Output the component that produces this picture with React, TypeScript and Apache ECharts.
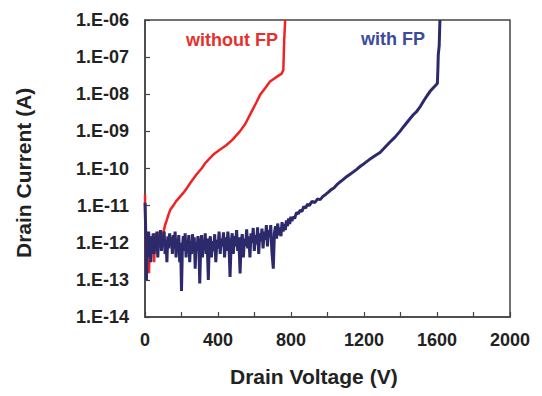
import React, { useEffect, useRef } from "react";
import * as echarts from "echarts";

const xTicks = [0, 400, 800, 1200, 1600, 2000];
const yMin = 1e-14;
const yMax = 1e-6;

const withoutFP: [number, number][] = [
  [0, 2e-11], [3, 1.5e-12], [6, 4e-13], [10, 1.2e-12], [14, 2e-13], [18, 8e-13],
  [22, 1.5e-13], [26, 1e-12], [30, 3e-13], [35, 1.5e-12], [40, 5e-13], [45, 1.2e-12],
  [50, 3e-13], [55, 1.8e-12], [60, 6e-13], [65, 1.5e-12], [70, 8e-13], [75, 2e-12],
  [80, 1e-12], [88, 2e-12], [95, 1.5e-12], [100, 1.8e-12], [110, 3e-12], [119, 4e-12],
  [130, 6e-12], [140, 8e-12], [155, 1e-11], [170, 1.3e-11], [190, 1.7e-11], [210, 2.2e-11],
  [230, 3e-11], [250, 4.2e-11], [283, 7e-11], [310, 1e-10], [330, 1.4e-10], [356, 1.9e-10],
  [380, 2.5e-10], [410, 3.2e-10], [447, 4.3e-10], [480, 6e-10], [520, 1e-9], [550, 1.6e-9],
  [584, 3.4e-9], [610, 6e-9], [630, 9.5e-9], [660, 1.5e-8], [685, 2.2e-8], [715, 2.8e-8],
  [749, 3.6e-8], [758, 4.5e-8], [760, 1e-7], [763, 3e-7], [768, 1e-6],
];

const withFP: [number, number][] = [
  [0, 1.2e-11], [4, 2e-12], [8, 1e-13], [12, 1.5e-12], [16, 4e-13], [20, 2e-12],
  [24, 8e-13], [28, 1.5e-12], [32, 3e-13], [36, 1.2e-12], [40, 6e-13], [45, 1.8e-12],
  [50, 5e-13], [55, 1.5e-12], [60, 7e-13], [65, 2e-12], [70, 4e-13], [75, 1.5e-12],
  [80, 9e-13], [85, 2.2e-12], [90, 6e-13], [95, 1.5e-12], [100, 8e-13], [105, 2e-12],
  [110, 5e-13], [115, 1.2e-12], [120, 3e-13], [125, 1.5e-12], [130, 7e-13], [135, 1.8e-12],
  [140, 9e-13], [145, 1.4e-12], [150, 5e-13], [155, 1.6e-12], [160, 8e-13], [165, 2e-12],
  [170, 4e-13], [175, 1.3e-12], [180, 6e-13], [185, 1.6e-12], [190, 3e-13], [195, 1e-12],
  [200, 5e-14], [205, 8e-13], [210, 1.5e-12], [215, 6e-13], [220, 1.8e-12], [225, 4e-13],
  [230, 1.2e-12], [235, 7e-13], [240, 1.6e-12], [245, 3e-13], [250, 1.1e-12], [255, 5e-13],
  [260, 1.7e-12], [265, 8e-13], [270, 1.4e-12], [275, 2e-13], [280, 1e-12], [285, 6e-13],
  [290, 1.5e-12], [295, 9e-13], [300, 8e-14], [305, 7e-13], [310, 1.6e-12], [315, 4e-13],
  [320, 1.2e-12], [325, 7e-13], [330, 1.8e-12], [335, 5e-13], [340, 1.3e-12], [347, 1e-13],
  [352, 9e-13], [358, 1.5e-12], [364, 4e-13], [370, 1.1e-12], [376, 6e-13], [382, 1.7e-12],
  [388, 3e-13], [394, 1.2e-12], [400, 7e-13], [406, 2e-12], [412, 5e-13], [418, 1.3e-12],
  [424, 8e-13], [430, 1.9e-12], [436, 4e-13], [442, 1.4e-12], [448, 6e-13], [454, 2e-12],
  [460, 9e-13], [466, 1.2e-13], [472, 1e-12], [478, 1.8e-12], [484, 5e-13], [490, 1.5e-12],
  [496, 8e-13], [502, 2.2e-12], [508, 6e-13], [514, 1.4e-12], [521, 1.5e-13], [527, 1.1e-12],
  [533, 1.7e-12], [539, 4e-13], [545, 1.3e-12], [551, 8e-13], [557, 2.3e-12], [563, 7e-13],
  [569, 1.5e-12], [575, 4e-13], [581, 1.8e-12], [587, 1e-12], [593, 2.5e-12], [599, 6e-13],
  [605, 1.6e-12], [611, 9e-13], [617, 2.6e-12], [623, 5e-13], [629, 1.8e-12], [635, 1.1e-12],
  [641, 2.4e-12], [647, 7e-13], [653, 2e-12], [659, 1.2e-12], [665, 3e-12], [671, 8e-13],
  [677, 2.2e-12], [683, 1.4e-12], [689, 3e-12], [695, 6e-13], [703, 2e-13], [709, 1.8e-12],
  [715, 2.8e-12], [721, 1.3e-12], [727, 3.3e-12], [733, 1.6e-12], [739, 2.6e-12], [745, 1.5e-12],
  [751, 3.6e-12], [757, 2e-12], [763, 3.2e-12], [769, 2.2e-12], [775, 4e-12], [781, 2.8e-12],
  [787, 4.5e-12], [793, 3.2e-12], [799, 5e-12], [805, 3.8e-12], [811, 5e-12], [820, 4.5e-12],
  [830, 6.5e-12], [840, 6e-12], [850, 7.5e-12], [860, 7e-12], [870, 9.5e-12], [880, 8.5e-12],
  [890, 1.1e-11], [900, 1e-11], [915, 1.3e-11], [930, 1.2e-11], [945, 1.5e-11], [960, 1.45e-11],
  [976, 1.8e-11], [990, 2e-11], [1005, 2.3e-11], [1020, 2.7e-11], [1035, 3e-11], [1050, 3.6e-11],
  [1065, 4.2e-11], [1080, 4.8e-11], [1100, 5.8e-11], [1120, 6.8e-11], [1140, 8e-11], [1160, 9.5e-11],
  [1180, 1.15e-10], [1200, 1.35e-10], [1220, 1.6e-10], [1240, 1.9e-10], [1260, 2.2e-10], [1288, 2.7e-10],
  [1310, 3.5e-10], [1340, 5e-10], [1370, 7e-10], [1397, 1e-9], [1420, 1.4e-9], [1445, 2e-9],
  [1470, 2.8e-9], [1488, 3.4e-9], [1510, 4.8e-9], [1530, 7e-9], [1545, 9e-9], [1562, 1.2e-8],
  [1580, 1.5e-8], [1602, 1.95e-8], [1605, 5e-8], [1607, 1.15e-7], [1612, 2e-7], [1616, 1e-6],
];

const FONT = "'Liberation Sans', Arial, sans-serif";

export default function App() {
  const ref = useRef<HTMLDivElement>(null);
  useEffect(() => {
    if (!ref.current) return;
    const chart = echarts.init(ref.current, undefined, { renderer: "svg" });
    chart.setOption({
      animation: false,
      backgroundColor: "#fff",
      grid: {
        left: 145, top: 20, right: 32, bottom: 79,
        show: true, borderColor: "#444", borderWidth: 1.5,
      },
      xAxis: {
        type: "value", min: 0, max: 2000, interval: 200,
        axisLine: { lineStyle: { color: "#444", width: 1.5 } },
        axisTick: { inside: true, length: 5, lineStyle: { color: "#444", width: 1.2 } },
        splitLine: { show: false },
        axisLabel: {
          margin: 14, color: "#222", fontFamily: FONT, fontWeight: "bold", fontSize: 18,
          formatter: (v: number) => (xTicks.includes(v) ? String(v) : ""),
        },
      },
      yAxis: {
        type: "log", logBase: 10, min: yMin, max: yMax, splitNumber: 8, interval: 1,
        axisLine: { show: true, lineStyle: { color: "#444", width: 1.5 } },
        axisTick: { show: true, inside: true, length: 5, lineStyle: { color: "#444", width: 1.2 } },
        splitLine: { show: false },
        minorTick: { show: false },
        axisLabel: {
          margin: 16, color: "#222", fontFamily: FONT, fontWeight: "bold", fontSize: 18,
          formatter: (v: number) => {
            const e = Math.round(Math.log10(v));
            return "1.E-" + String(-e).padStart(2, "0");
          },
        },
      },
      graphic: [
        {
          type: "text", left: 230, top: 366,
          style: { text: "Drain Voltage (V)", font: `bold 21px ${FONT}`, fill: "#222" },
        },
        {
          type: "text", x: 13, y: 258, rotation: Math.PI / 2,
          style: { text: "Drain Current (A)", font: `bold 21px ${FONT}`, fill: "#222" },
        },
        {
          type: "text", left: 186, top: 31,
          style: { text: "without FP", font: `bold 18px ${FONT}`, fill: "#E8302A" },
        },
        {
          type: "text", left: 361, top: 30,
          style: { text: "with FP", font: `bold 18px ${FONT}`, fill: "#3B4A9A" },
        },
      ],
      series: [
        {
          name: "without FP", type: "line", data: withoutFP, showSymbol: false,
          lineStyle: { color: "#EE2424", width: 2.5 }, itemStyle: { color: "#EE2424" },
        },
        {
          name: "with FP", type: "line", data: withFP, showSymbol: false,
          lineStyle: { color: "#2D2A6B", width: 3 }, itemStyle: { color: "#2D2A6B" },
        },
      ],
    });
    return () => chart.dispose();
  }, []);
  return <div ref={ref} style={{ width: 542, height: 396, position: "absolute", left: 0, top: 0 }} />;
}
